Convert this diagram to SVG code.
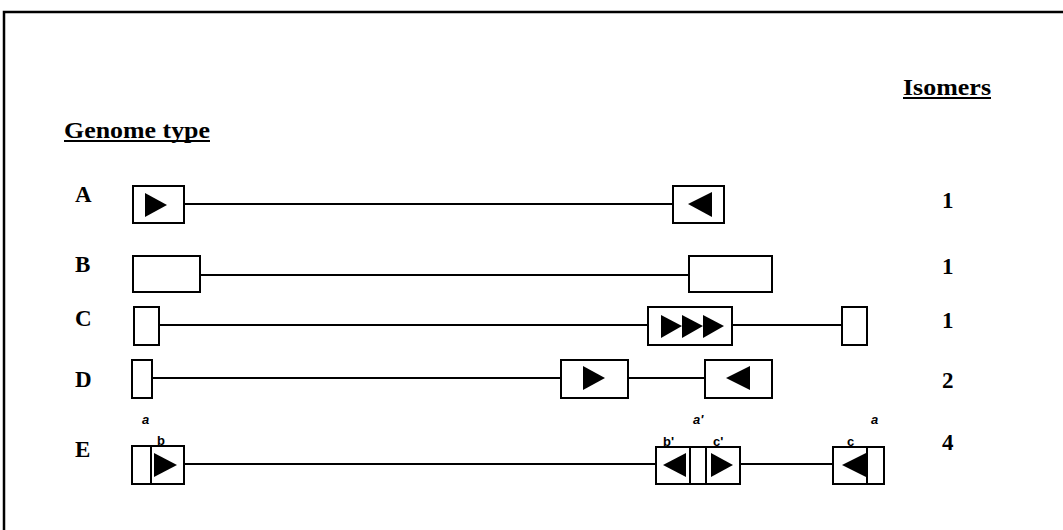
<svg xmlns="http://www.w3.org/2000/svg" width="1063" height="530" viewBox="0 0 1063 530">
<style>
.box{fill:#fff;stroke:#000;stroke-width:2}
.ln{stroke:#000;stroke-width:2;fill:none}
.tri{fill:#000}
.hd{font-family:"Liberation Serif",serif;font-weight:bold;font-size:23px;fill:#000}
.lb{font-family:"Liberation Sans",sans-serif;font-weight:bold;font-size:13px;fill:#000}
.it{font-style:italic}
</style>
<rect x="4" y="12" width="1070" height="530" fill="#fff" stroke="#000" stroke-width="2.5"/>
<g id="headings">
<text class="hd" x="64" y="138" textLength="146" lengthAdjust="spacingAndGlyphs">Genome type</text>
<line class="ln" x1="64" y1="141" x2="210" y2="141"/>
<text class="hd" x="903" y="95" textLength="88" lengthAdjust="spacingAndGlyphs">Isomers</text>
<line class="ln" x1="903" y1="98" x2="991" y2="98"/>
</g>
<g id="row-labels">
<text class="hd" x="75" y="202">A</text>
<text class="hd" x="75" y="272">B</text>
<text class="hd" x="75" y="326">C</text>
<text class="hd" x="75" y="387">D</text>
<text class="hd" x="75" y="457">E</text>
</g>
<g id="isomer-counts">
<text class="hd" x="942" y="208">1</text>
<text class="hd" x="942" y="274">1</text>
<text class="hd" x="942" y="328">1</text>
<text class="hd" x="942" y="388">2</text>
<text class="hd" x="942" y="450">4</text>
</g>
<g id="connectors">
<line class="ln" x1="184" y1="204" x2="673" y2="204"/>
<line class="ln" x1="200" y1="275" x2="689" y2="275"/>
<line class="ln" x1="159" y1="325" x2="648" y2="325"/>
<line class="ln" x1="732" y1="325" x2="842" y2="325"/>
<line class="ln" x1="152" y1="378" x2="561" y2="378"/>
<line class="ln" x1="628" y1="378" x2="705" y2="378"/>
<line class="ln" x1="184" y1="464" x2="656" y2="464"/>
<line class="ln" x1="740" y1="464" x2="833" y2="464"/>
</g>
<g id="A-left"><rect class="box" x="133" y="186" width="51" height="37"/><polygon class="tri" points="145,193 167,205 145,217"/></g>
<g id="A-right"><rect class="box" x="673" y="186" width="51" height="37"/><polygon class="tri" points="688,204 712,192 712,217"/></g>
<g id="B-left"><rect class="box" x="133" y="256" width="67" height="36"/></g>
<g id="B-right"><rect class="box" x="689" y="256" width="83" height="36"/></g>
<g id="C-left"><rect class="box" x="134" y="307" width="25" height="38"/></g>
<g id="C-mid"><rect class="box" x="648" y="307" width="84" height="38"/>
<polygon class="tri" points="661,315 682,326 661,338"/><polygon class="tri" points="682,315 703,326 682,338"/><polygon class="tri" points="703,315 724,326 703,338"/></g>
<g id="C-right"><rect class="box" x="842" y="307" width="25" height="38"/></g>
<g id="D-left"><rect class="box" x="132" y="360" width="20" height="38"/></g>
<g id="D-mid"><rect class="box" x="561" y="360" width="67" height="38"/><polygon class="tri" points="583,366 605,378 583,390"/></g>
<g id="D-right"><rect class="box" x="705" y="360" width="67" height="38"/><polygon class="tri" points="726,378 750,366 750,390"/></g>
<g id="E-left"><rect class="box" x="132" y="446" width="52" height="38"/><line class="ln" x1="151" y1="446" x2="151" y2="484"/><polygon class="tri" points="154,453 177,465 154,477"/>
<text class="lb it" x="142" y="424">a</text><text class="lb" x="157" y="445">b</text></g>
<g id="E-mid"><rect class="box" x="656" y="447" width="84" height="37"/><line class="ln" x1="690" y1="447" x2="690" y2="484"/><line class="ln" x1="706" y1="447" x2="706" y2="484"/>
<polygon class="tri" points="663,465 686,453 686,477"/><polygon class="tri" points="711,453 733,465 711,477"/>
<text class="lb it" x="693" y="424">a'</text><text class="lb" x="663" y="446">b'</text><text class="lb" x="713" y="446">c'</text></g>
<g id="E-right"><rect class="box" x="833" y="447" width="51" height="37"/><line class="ln" x1="867" y1="447" x2="867" y2="484"/><polygon class="tri" points="842,465 866,453 866,477"/>
<text class="lb" x="847" y="446">c</text><text class="lb it" x="871" y="424">a</text></g>
</svg>
